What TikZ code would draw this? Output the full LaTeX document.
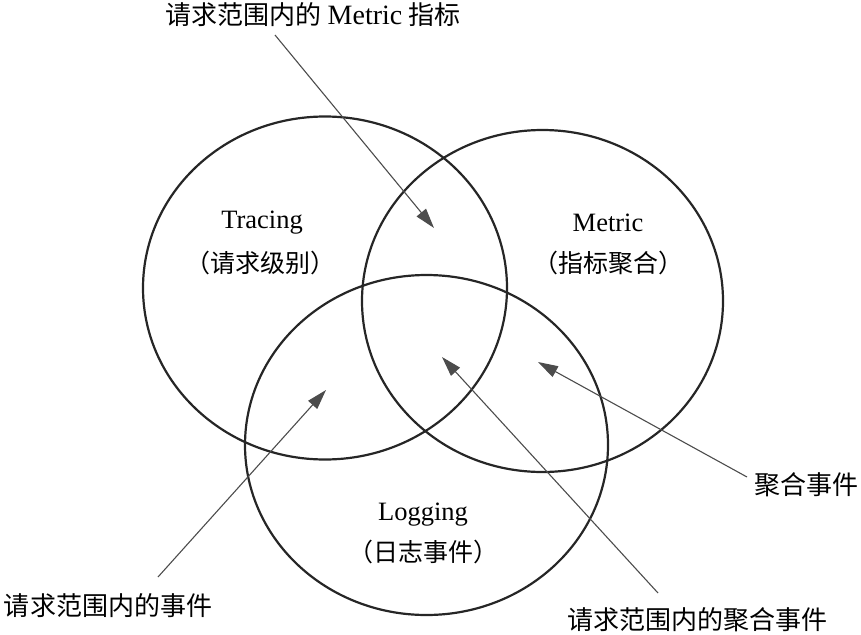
\documentclass[tikz,border=0pt]{standalone}
\usepackage{fontspec}
\setmainfont{Liberation Serif}
\newfontfamily\cjk{Noto Sans CJK SC}
\usetikzlibrary{arrows.meta,shapes.geometric}
\begin{document}
\begin{tikzpicture}[x=1pt,y=-1pt,
  venn/.style={draw=black!85, line width=2.2pt, ellipse, inner sep=0pt, outer sep=0pt},
  pointer/.style={draw=black!70, line width=1.1pt, -{Triangle[length=20pt,width=12pt]}},
  inlabel/.style={align=center, inner sep=0pt, font=\fontsize{26.5}{30}\selectfont},
  incjk/.style={align=center, inner sep=0pt, font=\fontsize{25}{30}\selectfont\cjk},
  outlabel/.style={inner sep=0pt, font=\fontsize{26}{30}\selectfont\cjk}]
\useasboundingbox (0,0) rectangle (861,634);
% circles
\node[venn, minimum width=364pt, minimum height=343pt] (T) at (325,288) {};
\node[venn, minimum width=361pt, minimum height=342pt] (M) at (542.5,301) {};
\node[venn, minimum width=363pt, minimum height=340pt] (L) at (426.5,445) {};
% inner labels
\node[inlabel] (Tt) at (262,223) {Tracing};
\node[incjk] (Tc) at (260,263) {（请求级别）};
\node[inlabel] (Mt) at (608,223) {Metric};
\node[incjk] (Mc) at (608,263) {（指标聚合）};
\node[inlabel] (Lt) at (423,515) {Logging};
\node[incjk] (Lc) at (423,552) {（日志事件）};
% outer labels
\node[outlabel] (top) at (313,15) {请求范围内的\ {\fontsize{28}{30}\selectfont\rmfamily Metric}\ 指标};
\node[outlabel] (agg) at (806,485) {聚合事件};
\node[outlabel] (req) at (108,606) {请求范围内的事件};
\node[outlabel] (reqagg) at (697,620) {请求范围内的聚合事件};
% arrow ends
\coordinate (s1) at (275,35);
\coordinate (e1) at (434,228);
\coordinate (s2) at (747,477);
\coordinate (e2) at (538,362);
\coordinate (s3) at (658,593);
\coordinate (e3) at (442,357);
\coordinate (s4) at (158,577);
\coordinate (e4) at (326,390);
\draw[pointer] (s1) -- (e1);
\draw[pointer] (s2) -- (e2);
\draw[pointer] (s3) -- (e3);
\draw[pointer] (s4) -- (e4);
\end{tikzpicture}
\end{document}
